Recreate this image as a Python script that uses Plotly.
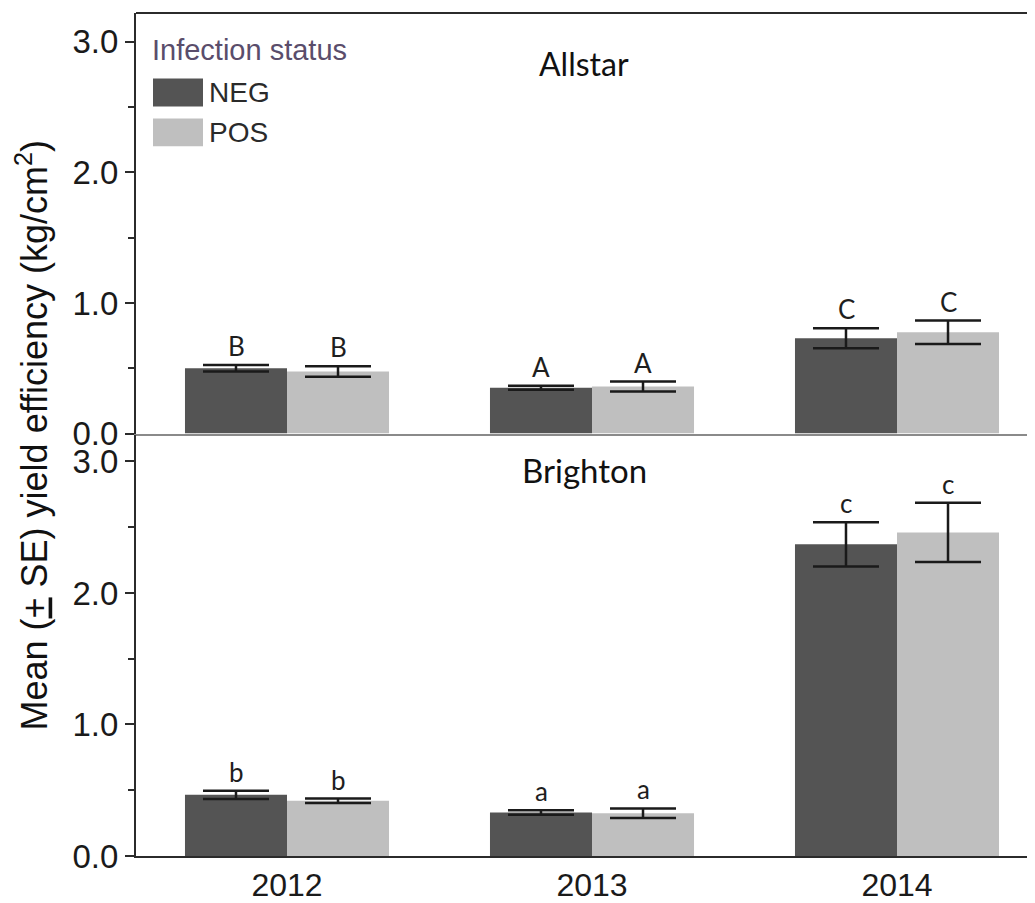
import plotly.graph_objects as go
from plotly.subplots import make_subplots

years = ["2012", "2013", "2014"]
series_names = ["NEG", "POS"]

# Allstar (top panel)
allstar_neg = [0.50, 0.35, 0.73]
allstar_neg_se = [0.025, 0.015, 0.077]
allstar_pos = [0.475, 0.36, 0.775]
allstar_pos_se = [0.04, 0.038, 0.09]
allstar_letters_neg = ["B", "A", "C"]
allstar_letters_pos = ["B", "A", "C"]

# Brighton (bottom panel)
brighton_neg = [0.465, 0.33, 2.37]
brighton_neg_se = [0.032, 0.017, 0.168]
brighton_pos = [0.42, 0.325, 2.46]
brighton_pos_se = [0.017, 0.037, 0.225]
brighton_letters_neg = ["b", "a", "c"]
brighton_letters_pos = ["b", "a", "c"]

panel_titles = ["Allstar", "Brighton"]
y_ticks = [0.0, 1.0, 2.0, 3.0]
y_ticklabels = ["0.0", "1.0", "2.0", "3.0"]

NEG_COLOR = "#545454"
POS_COLOR = "#bfbfbf"
AXIS_COLOR = "#2b2b2b"

OFF = 8  # page body margin
W, H = 1035 - OFF, 903 - OFF
ML, MR, MT, MB = 136 - OFF, 0, 13 - OFF, 903 - 861
plot_h = H - MT - MB
plot_w = W - ML - MR

def py(pix):
    return (903 - MB - pix) / plot_h

def px(pix):
    return (pix - 136) / plot_w

fig = make_subplots(rows=2, cols=1, shared_xaxes=False, vertical_spacing=0)

panels = [
    (allstar_neg, allstar_neg_se, allstar_pos, allstar_pos_se, allstar_letters_neg, allstar_letters_pos),
    (brighton_neg, brighton_neg_se, brighton_pos, brighton_pos_se, brighton_letters_neg, brighton_letters_pos),
]

GROUP_OFF = 102 / 305.0 / 2

for i, (neg, neg_se, pos, pos_se, ln, lp) in enumerate(panels):
    row = i + 1
    for name, vals, se, col in [(series_names[0], neg, neg_se, NEG_COLOR), (series_names[1], pos, pos_se, POS_COLOR)]:
        fig.add_trace(go.Bar(
            x=years, y=vals, name=name, marker=dict(color=col, line=dict(width=0)),
            error_y=dict(type="data", array=se, visible=True, color="#1a1a1a", thickness=2.5, width=33),
            showlegend=False,
        ), row=row, col=1)
    xref = "x" if row == 1 else "x2"
    yref = "y" if row == 1 else "y2"
    for j, yr in enumerate(years):
        for letters, vals, se, sgn in [(ln, neg, neg_se, -1), (lp, pos, pos_se, 1)]:
            fig.add_annotation(x=j + sgn * GROUP_OFF, y=vals[j] + se[j], xref=xref, yref=yref, text=letters[j],
                               showarrow=False, yanchor="bottom", yshift=1,
                               font=dict(family="Lato, Open Sans, sans-serif", size=26, color="#1e1e1e"))

# domains
top_dom = [py(436), 1.0]
bot_dom = [0.0, py(438)]

common_y = dict(tickvals=y_ticks, ticktext=y_ticklabels, ticks="outside", ticklen=9, tickwidth=2,
                tickcolor=AXIS_COLOR, showline=True, linecolor=AXIS_COLOR, linewidth=2,
                showgrid=False, zeroline=False,
                tickfont=dict(family="Liberation Sans, Arial, sans-serif", size=33, color="#1a1a1a"),
                minor=dict(dtick=0.5, ticks="outside", ticklen=6, tickwidth=1.5, tickcolor=AXIS_COLOR, showgrid=False))

fig.update_yaxes(domain=top_dom, range=[0, (436 - 13) / 131.3], row=1, col=1, **common_y)
fig.update_yaxes(domain=bot_dom, range=[0, (861 - 438) / 132.3], row=2, col=1, **common_y)

xr = [(136 - 287) / 305.0, (1035 - 287) / 305.0]
fig.update_xaxes(type="category", range=xr, showticklabels=False, ticks="", showline=True, linecolor="#8a8a8a",
                 linewidth=2, showgrid=False, zeroline=False, row=1, col=1)
fig.update_xaxes(type="category", range=xr, ticks="", showline=True, linecolor=AXIS_COLOR, linewidth=2,
                 showgrid=False, zeroline=False,
                 tickfont=dict(family="Liberation Sans, Arial, sans-serif", size=32, color="#1a1a1a"),
                 row=2, col=1)

# top border of the frame
fig.add_shape(type="line", xref="paper", yref="paper", x0=0, x1=1, y0=1, y1=1,
              line=dict(color=AXIS_COLOR, width=2))

# panel titles
for title, ypix, size in zip(panel_titles, [64, 473], [32, 33]):
    fig.add_annotation(x=px(584), y=py(ypix), xref="paper", yref="paper", text=title, showarrow=False,
                       xanchor="center", yanchor="middle",
                       font=dict(family="Lato, Open Sans, sans-serif", size=size, color="#111111"))

# legend (drawn manually to match large swatches)
fig.add_annotation(x=px(150), y=py(50), xref="paper", yref="paper", text="Infection status", showarrow=False,
                   xanchor="left", yanchor="middle",
                   font=dict(family="Liberation Sans, Arial, sans-serif", size=29, color="#5a4d6b"))
for name, col, (y0p, y1p) in [(series_names[0], NEG_COLOR, (79, 107)), (series_names[1], POS_COLOR, (119, 147))]:
    fig.add_shape(type="rect", xref="paper", yref="paper", x0=px(153), x1=px(203), y0=py(y1p), y1=py(y0p),
                  fillcolor=col, line=dict(width=0))
    fig.add_annotation(x=px(207), y=py((y0p + y1p) / 2), xref="paper", yref="paper", text=name, showarrow=False,
                       xanchor="left", yanchor="middle",
                       font=dict(family="Liberation Sans, Arial, sans-serif", size=28, color="#2a2a2a"))

# y axis title
fig.add_annotation(x=px(32), y=py(438), xref="paper", yref="paper",
                   text="Mean (<u>+</u> SE) yield efficiency (kg/cm<sup>2</sup>)", showarrow=False,
                   textangle=-90, xanchor="center", yanchor="middle",
                   font=dict(family="Liberation Sans, Arial, sans-serif", size=36, color="#111111"))

fig.update_layout(width=W, height=H, margin=dict(l=ML, r=MR, t=MT, b=MB, pad=0),
                  plot_bgcolor="white", paper_bgcolor="white", barmode="group", bargap=0.331, bargroupgap=0,
                  showlegend=False)

fig.write_html("out.html")
